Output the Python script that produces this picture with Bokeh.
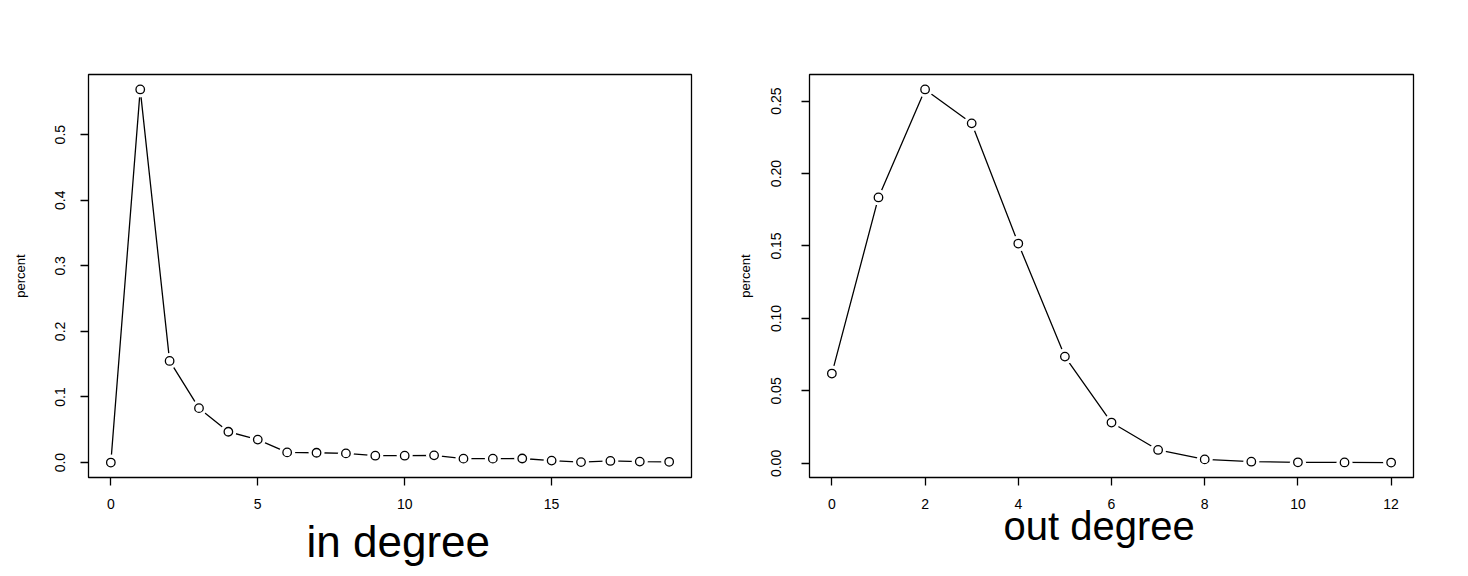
from bokeh.plotting import figure
from bokeh.layouts import row
from bokeh.models import Range1d, FixedTicker, NumeralTickFormatter, ColumnDataSource, Title
from bokeh.embed import file_html
from bokeh.resources import INLINE

# in-degree distribution
in_deg = list(range(20))
in_pct = [0.0, 0.569, 0.155, 0.083, 0.047, 0.035, 0.0155, 0.015, 0.014, 0.0105,
          0.0105, 0.011, 0.006, 0.006, 0.0062, 0.003, 0.0007, 0.0025, 0.0015, 0.0012]
in_xticks = [0, 5, 10, 15]
in_yticks = [0.0, 0.1, 0.2, 0.3, 0.4, 0.5]

# out-degree distribution
out_deg = list(range(13))
out_pct = [0.062, 0.1835, 0.258, 0.2346, 0.1517, 0.0737, 0.0282, 0.0093, 0.0028,
           0.0012, 0.0008, 0.0007, 0.0006]
out_xticks = [0, 2, 4, 6, 8, 10, 12]
out_yticks = [0.0, 0.05, 0.10, 0.15, 0.20, 0.25]

FONT = "Liberation Sans"


def make_plot(xs, ys, xticks, yticks, yfmt, width, border_left, border_right,
              ylab_standoff, ytick_standoff):
    xmin, xmax = min(xs), max(xs)
    ymin, ymax = min(ys), max(ys)
    dx = (xmax - xmin) * 0.04
    dy = (ymax - ymin) * 0.04
    p = figure(width=width, height=572, output_backend="svg", toolbar_location=None,
               x_range=Range1d(xmin - dx, xmax + dx), y_range=Range1d(ymin - dy, ymax + dy),
               min_border_left=border_left, min_border_right=border_right,
               min_border_top=74, min_border_bottom=95)
    p.grid.visible = False
    p.outline_line_color = "black"
    p.outline_line_width = 1.3
    p.background_fill_color = "white"
    p.border_fill_color = "white"

    for ax in (p.xaxis[0], p.yaxis[0]):
        ax.axis_line_color = None
        ax.major_tick_line_color = "black"
        ax.major_tick_line_width = 1.3
        ax.major_tick_in = 0
        ax.major_tick_out = 8
        ax.minor_tick_line_color = None
        ax.major_label_text_font = FONT
        ax.major_label_text_font_size = "14px"
        ax.major_label_text_color = "black"
        ax.axis_label_text_font = FONT
        ax.axis_label_text_font_style = "normal"
        ax.axis_label_text_color = "black"

    p.xaxis.ticker = FixedTicker(ticks=xticks)
    p.xaxis.major_label_standoff = 13

    p.yaxis.ticker = FixedTicker(ticks=yticks)
    p.yaxis.formatter = NumeralTickFormatter(format=yfmt)
    p.yaxis.major_label_orientation = "vertical"
    p.yaxis.major_label_standoff = ytick_standoff
    p.yaxis.axis_label = "percent"
    p.yaxis.axis_label_text_font_size = "13px"
    p.yaxis.axis_label_standoff = ylab_standoff

    src = ColumnDataSource(dict(x=xs, y=ys))
    p.line("x", "y", source=src, line_color="black", line_width=1.3)
    p.scatter("x", "y", source=src, size=16, fill_color="white", line_color=None)
    p.scatter("x", "y", source=src, size=8.5, fill_color="white", line_color="black",
              line_width=1.3)
    return p


p1 = make_plot(in_deg, in_pct, in_xticks, in_yticks, "0.0", 729, 88, 38, 25, 15)
p1.add_layout(Title(text="in degree", align="left", offset=218, vertical_align="top",
                    standoff=10, text_font=FONT, text_font_size="44px",
                    text_font_style="normal", text_color="black"), "below")

p2 = make_plot(out_deg, out_pct, out_xticks, out_yticks, "0.00", 731, 80, 47, 16, 20)
p2.add_layout(Title(text="out degree", align="left", offset=194, vertical_align="top",
                    standoff=-16, text_font=FONT, text_font_size="40px",
                    text_font_style="normal", text_color="black"), "below")

layout = row(p1, p2)
open("out.html", "w").write(file_html(layout, INLINE))
